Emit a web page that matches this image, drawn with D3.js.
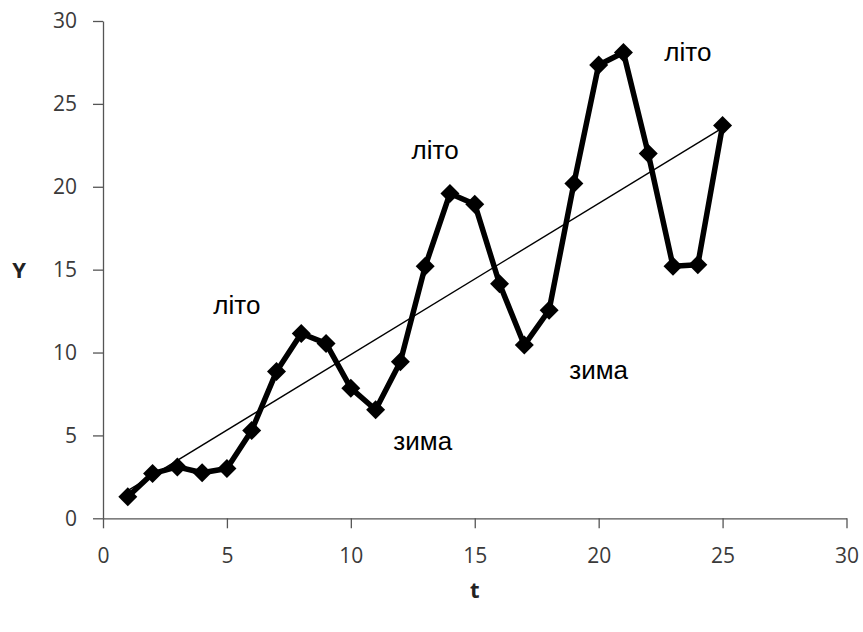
<!DOCTYPE html>
<html>
<head>
<meta charset="utf-8">
<script src="https://cdn.jsdelivr.net/npm/d3@7"></script>
<style>
  html, body { margin: 0; padding: 0; background: #fff; }
  svg { display: block; }
</style>
</head>
<body>
<svg id="chart" width="863" height="632"></svg>
<script>
// ---- data ----
const tValues = [1,2,3,4,5,6,7,8,9,10,11,12,13,14,15,16,17,18,19,20,21,22,23,24,25];
const yValues = [1.3,2.7,3.1,2.75,3.0,5.3,8.85,11.15,10.55,7.85,6.55,9.45,15.2,19.6,18.95,14.15,10.45,12.55,20.2,27.35,28.1,22.0,15.2,15.3,23.7];
const xTicks = [0,5,10,15,20,25,30];
const yTicks = [0,5,10,15,20,25,30];
const annotationTexts = ["літо","зима","літо","зима","літо"];
const annotationT = [5.4, 12.9, 13.4, 20.0, 23.6];
const annotationY = [12.3, 4.1, 21.7, 8.4, 27.6];
const xTitle = "t";
const yTitle = "Y";

// ---- layout ----
const svg = d3.select("#chart");
const x = d3.scaleLinear().domain([0, 30]).range([103, 846.5]);
const y = d3.scaleLinear().domain([0, 30]).range([518.3, 21]);

// axes
const axisColor = "#555";
const tickFont = "'Open Sans', sans-serif";

const gx = svg.append("g").attr("transform", `translate(0,${y(0)})`)
  .call(d3.axisBottom(x).tickValues(xTicks).tickSize(10).tickPadding(20).tickSizeOuter(0));
const gy = svg.append("g").attr("transform", `translate(${x(0)},0)`)
  .call(d3.axisLeft(y).tickValues(yTicks).tickSize(10).tickPadding(16).tickSizeOuter(0));

[gx, gy].forEach(g => {
  g.select(".domain").attr("stroke", axisColor).attr("stroke-width", 1.3);
  g.selectAll(".tick line").attr("stroke", axisColor).attr("stroke-width", 1.3);
  g.selectAll(".tick text").attr("fill", "#3a3a3a")
    .style("font-family", tickFont).style("font-size", "21px");
});

// axis titles
svg.append("text").attr("x", 19).attr("y", 270).attr("dy", "0.35em")
  .attr("text-anchor", "middle").style("font-family", tickFont)
  .style("font-size", "22px").style("font-weight", "bold").attr("fill", "#222")
  .text(yTitle);
svg.append("text").attr("x", (x(0) + x(30)) / 2).attr("y", 590).attr("dy", "0.35em")
  .attr("text-anchor", "middle").style("font-family", tickFont)
  .style("font-size", "22px").style("font-weight", "bold").attr("fill", "#222")
  .text(xTitle);

// linear trend (least squares on the data)
const n = tValues.length;
const mt = d3.mean(tValues), my = d3.mean(yValues);
let sxy = 0, sxx = 0;
for (let i = 0; i < n; i++) { sxy += (tValues[i]-mt)*(yValues[i]-my); sxx += (tValues[i]-mt)**2; }
const slope = sxy / sxx, icpt = my - slope * mt;
const t0 = d3.min(tValues), t1 = d3.max(tValues);
svg.append("line")
  .attr("x1", x(t0)).attr("y1", y(icpt + slope * t0))
  .attr("x2", x(t1)).attr("y2", y(icpt + slope * t1))
  .attr("stroke", "#000").attr("stroke-width", 1.4);

// series
const pts = tValues.map((t, i) => [t, yValues[i]]);
const line = d3.line().x(d => x(d[0])).y(d => y(d[1]));
svg.append("path").datum(pts).attr("d", line)
  .attr("fill", "none").attr("stroke", "#000").attr("stroke-width", 5.5)
  .attr("stroke-linejoin", "round");

const diamond = d3.symbol().type(d3.symbolDiamond2).size(230);
svg.selectAll(".mk").data(pts).enter().append("path")
  .attr("class", "mk")
  .attr("transform", d => `translate(${x(d[0])},${y(d[1])})`)
  .attr("d", diamond).attr("fill", "#000");

// annotations
svg.selectAll(".ann").data(annotationTexts).enter().append("text")
  .attr("class", "ann")
  .attr("x", (d, i) => x(annotationT[i]))
  .attr("y", (d, i) => y(annotationY[i]))
  .attr("text-anchor", "middle")
  .style("font-family", "'Liberation Sans', Arial, sans-serif")
  .style("font-size", "26px").attr("fill", "#000")
  .text(d => d);
</script>
</body>
</html>
